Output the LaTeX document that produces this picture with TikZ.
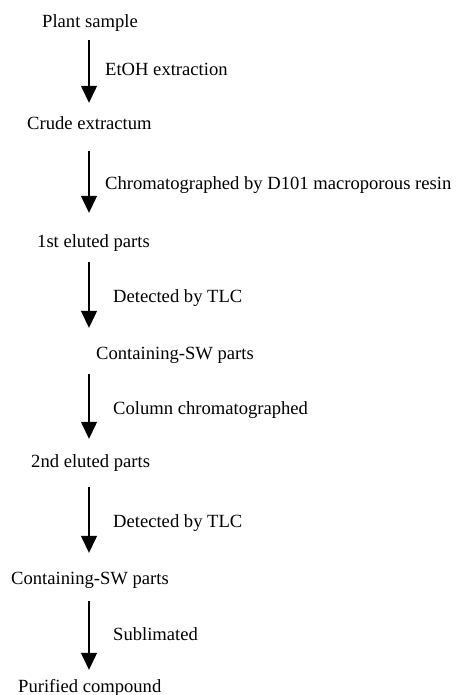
\documentclass[tikz,border=0pt]{standalone}
\usepackage{fontspec}
\setmainfont{Liberation Serif}
\usetikzlibrary{arrows.meta}

\begin{document}
\begin{tikzpicture}[x=1pt,y=-1pt,
	stage/.style={anchor=base west,inner sep=0pt,text height=13pt,text depth=4pt,font=\fontsize{18.6}{22}\selectfont},
	flow/.style={line width=1.3pt,-{Triangle[width=16pt,length=17pt]}}]
				\useasboundingbox (0,0) rectangle (455,695);
				\coordinate (ax) at (89,0);
				\node[stage] (plant) at (42,28) {Plant sample};
				\node[stage] (crude) at (27,130) {Crude extractum};
				\node[stage] (elu1) at (37,247) {1st eluted parts};
				\node[stage] (sw1) at (96,359) {Containing-SW parts};
				\node[stage] (elu2) at (31,467) {2nd eluted parts};
				\node[stage] (sw2) at (11,584) {Containing-SW parts};
				\node[stage] (pure) at (18,692) {Purified compound};
				\node[stage] (L1) at (105,76) {EtOH extraction};
				\node[stage] (L2) at (105,189) {Chromatographed by D101 macroporous resin};
				\node[stage] (L3) at (113,302) {Detected by TLC};
				\node[stage] (L4) at (113,414) {Column chromatographed};
				\node[stage] (L5) at (113,527) {Detected by TLC};
				\node[stage] (L6) at (113,640) {Sublimated};
				\draw[flow] ([yshift=-8pt]plant.south -| ax) -- ([yshift=14pt]crude.north -| ax);
				\draw[flow] ([yshift=-17pt]crude.south -| ax) -- ([yshift=21pt]elu1.north -| ax);
				\draw[flow] ([yshift=-11pt]elu1.south -| ax) -- ([yshift=18pt]sw1.north -| ax);
				\draw[flow] ([yshift=-11pt]sw1.south -| ax) -- ([yshift=15pt]elu2.north -| ax);
				\draw[flow] ([yshift=-16pt]elu2.south -| ax) -- ([yshift=18pt]sw2.north -| ax);
				\draw[flow] ([yshift=-13pt]sw2.south -| ax) -- ([yshift=9pt]pure.north -| ax);
			\end{tikzpicture}
\end{document}
